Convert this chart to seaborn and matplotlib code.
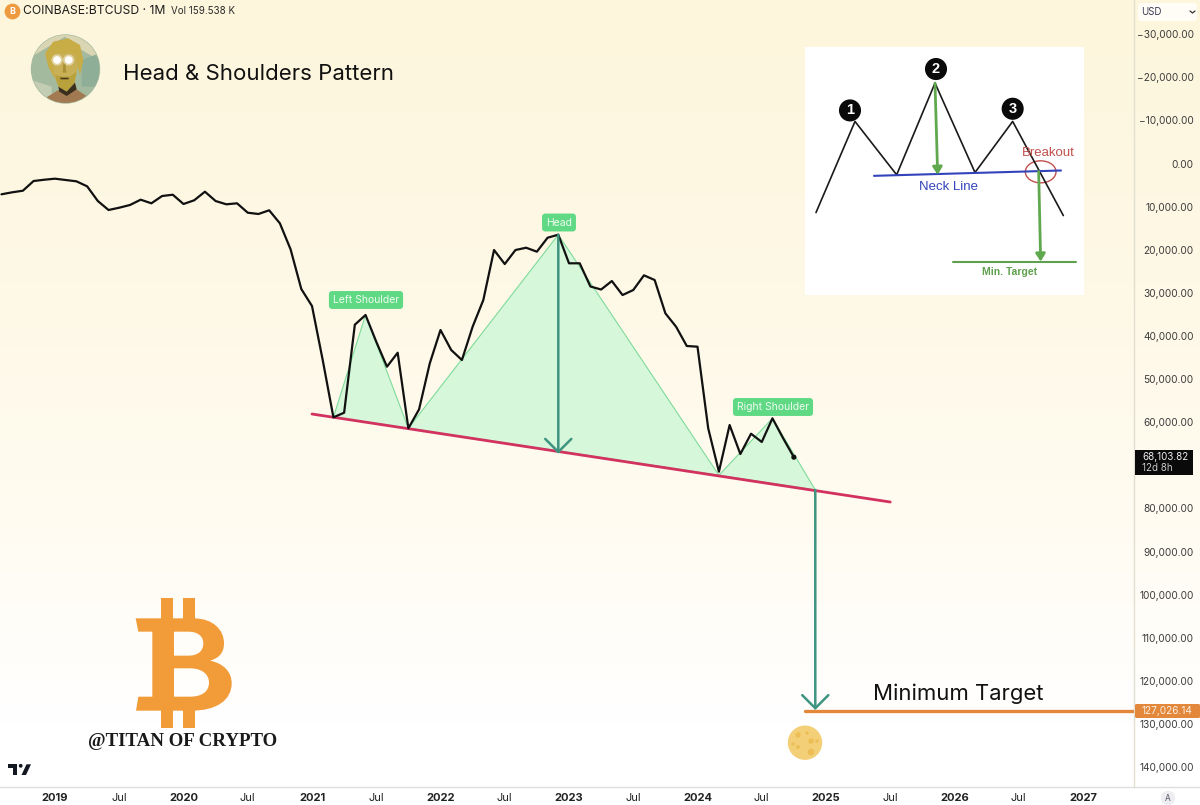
import numpy as np
import pandas as pd
import matplotlib.pyplot as plt
import seaborn as sns
from matplotlib.colors import LinearSegmentedColormap
from matplotlib.patches import Circle, Ellipse, FancyBboxPatch, PathPatch, Polygon, Rectangle
from matplotlib.path import Path

# monthly closes, first value is Aug 2018 (month index -5, Jan 2019 = 0), price axis is inverted
prices = [7140, 6680, 6310, 4060, 3760, 3520, 3830, 4130, 5290, 8700,
          10780, 10250, 9620, 8390, 9230, 7540, 7240, 9390, 8530, 6540,
          8700, 9460, 9230, 11410, 11710, 10850, 13870, 19900, 29100, 33050,
          45570, 58860, 57790, 37380, 35130, 41320, 47120, 43880, 61410, 57000,
          46330, 38610, 43250, 45570, 37850, 31650, 20060, 23310, 20060, 19530,
          20450, 17210, 16510, 23140, 23140, 28520, 29220, 27250, 30500, 29340,
          25930, 27020, 34740, 37850, 42320, 42480, 61410, 71470, 60640, 67370,
          62660, 64580, 59090, 63730, 68103.82]
first_month = -5

# head and shoulders pivots
pattern_months = [26, 29, 33, 47, 62, 67, 71]
pattern_prices = [58860, 35130, 61410, 16510, 72300, 59090, 75700]
neck_months = [24, 78]
neck_prices = [58090, 78500]
head_arrow_end = 67300
target_price = 127026.14
target_start_month = 70

# 70,000 sits behind the last price box in the reference, so it has no label
y_ticks = [-30000, -20000, -10000, 0, 10000, 20000, 30000, 40000, 50000, 60000,
           80000, 90000, 100000, 110000, 120000, 130000, 140000]
x_ticks = [0, 6, 12, 18, 24, 30, 36, 42, 48, 54, 60, 66, 72, 78, 84, 90, 96]
x_labels = ["2019", "Jul", "2020", "Jul", "2021", "Jul", "2022", "Jul", "2023", "Jul",
            "2024", "Jul", "2025", "Jul", "2026", "Jul", "2027"]

# little schematic in the white box
sketch_x = [48, 165, 290, 405, 525, 638, 790]
sketch_y = [518, 245, 405, 130, 398, 245, 527]
sketch_nums = ["1", "2", "3"]
sketch_num_x = [150, 408, 638]
sketch_num_y = [212, 88, 207]

sns.set_theme(style="white")
plt.rcParams["font.family"] = ["Inter", "DejaVu Sans"]

W, H = 1200, 805
fig = plt.figure(figsize=(12, 8.05), dpi=100)

# background gradient
bg = fig.add_axes([0, 0, 1, 1], zorder=0)
cmap = LinearSegmentedColormap.from_list("bg", [(0, "#FDF6DC"), (0.35, "#FEF8E6"), (0.6, "#FFFBEF"), (0.9, "#FFFFFF"), (1, "#FFFFFF")])
bg.imshow(np.linspace(0, 1, 256).reshape(-1, 1), aspect="auto", cmap=cmap, extent=(0, 1, 0, 1), origin="upper")
bg.axis("off")

# main chart, axes span 0..1134 x 0..786.5 px
ax_w, ax_h = 1134, 786.5
ax = fig.add_axes([0, 1 - ax_h / H, ax_w / W, ax_h / H], zorder=1)
ax.patch.set_alpha(0)

px_month = 1028 / 96
ax.set_xlim(-55 / px_month, (ax_w - 55) / px_month)
ax.set_ylim(144470, -37917)

df = pd.DataFrame({"month": np.arange(len(prices)) + first_month, "price": prices})

green = "#D6F7D9"
edge = "#7FDB9B"
for a, b, c in [(0, 1, 2), (2, 3, 4), (4, 5, 6)]:
    tri = [(pattern_months[i], pattern_prices[i]) for i in (a, b, c)]
    ax.add_patch(Polygon(tri, closed=True, facecolor=green, edgecolor=edge, lw=0.8, zorder=1))

sns.lineplot(data=df, x="month", y="price", color="#111111", lw=1.6, errorbar=None, ax=ax, zorder=4)
sns.scatterplot(data=df.tail(1), x="month", y="price", color="#111111", s=14, edgecolor="none", ax=ax, zorder=5)

sns.lineplot(x=neck_months, y=neck_prices, color="#D2325F", lw=2.0, errorbar=None, ax=ax, zorder=3)

teal = "#3F9381"
arrow = dict(arrowstyle="->,head_length=0.94,head_width=0.94", mutation_scale=10, color=teal, lw=1.8, shrinkA=0, shrinkB=0)
ax.annotate("", xy=(pattern_months[3], head_arrow_end), xytext=(pattern_months[3], pattern_prices[3]), arrowprops=arrow, zorder=5)
ax.annotate("", xy=(pattern_months[6], target_price - 300), xytext=(pattern_months[6], pattern_prices[6]), arrowprops=arrow, zorder=5)

ax.plot([target_start_month, 200], [target_price, target_price], color="#E3873A", lw=2.4, solid_capstyle="round", zorder=4)

ax.set_xlabel("")
ax.set_ylabel("")
ax.yaxis.tick_right()
ax.set_yticks(y_ticks)
ax.set_yticklabels([f"{v:,.2f}".replace("-", "\u2212") for v in y_ticks], ha="right", fontsize=7.3, color="#3C3C3C")
ax.tick_params(axis="y", length=0, pad=43)
ax.set_xticks(x_ticks)
ax.set_xticklabels(x_labels, fontsize=8, color="#222222")
ax.tick_params(axis="x", length=0, pad=4.5)
for lab, txt in zip(ax.get_xticklabels(), x_labels):
    if txt != "Jul":
        lab.set_fontweight("bold")
for s in ("top", "left"):
    ax.spines[s].set_visible(False)
ax.spines["bottom"].set_color("#DEDEDC")
ax.spines["right"].set_color("#E3DFD0")
ax.spines["bottom"].set_linewidth(1)
ax.spines["right"].set_linewidth(1)

# pixel overlay for labels and pictures
ov = fig.add_axes([0, 0, 1, 1], zorder=3)
ov.set_xlim(0, W)
ov.set_ylim(H, 0)
ov.axis("off")
ov.patch.set_alpha(0)

# horizontal axis bottom spine carries on under the price scale
ov.plot([1134, 1200], [786.5, 786.5], color="#DEDEDC", lw=1)

# header
ov.add_patch(Circle((12.5, 11.5), 7.2, color="#EE9A3F"))
ov.text(12.5, 11.7, "B", color="white", fontsize=6.5, fontweight="bold", ha="center", va="center")
ov.text(23, 11.5, "COINBASE:BTCUSD \u00b7 1M", fontsize=8.75, color="#1C1C1C", va="center")
ov.text(171, 11.5, "Vol 159.538 K", fontsize=7.0, color="#2A2A2A", va="center")
ov.text(123, 74, "Head & Shoulders Pattern", fontsize=16, color="#111111", va="center")

def av_poly(points, color):
    p = Polygon([(25 + x / 3, 30 + y / 3) for x, y in points], color=color, lw=0)
    ov.add_patch(p)
    p.set_clip_path(clip)

clip = Circle((65.5, 69), 34, transform=ov.transData)
ov.add_patch(Circle((65.5, 69), 34, color="#A4BA9E"))
av_poly([(20, 15), (222, 15), (222, 90), (170, 60), (120, 20), (70, 50), (20, 80)], "#DAD6B4")
av_poly([(170, 90), (222, 70), (222, 170), (170, 170)], "#8FAE97")
av_poly([(20, 150), (80, 170), (80, 225), (20, 225)], "#C3CDB3")
av_poly([(60, 205), (100, 180), (125, 195), (150, 175), (195, 205), (170, 225), (80, 225)], "#A27A52")
av_poly([(60, 70), (85, 35), (130, 25), (165, 45), (175, 90), (165, 135), (155, 100), (150, 75), (100, 70), (90, 110), (88, 145), (70, 110)], "#C8AC45")
av_poly([(88, 70), (150, 70), (158, 115), (148, 160), (125, 185), (100, 170), (85, 130)], "#C9AF55")
av_poly([(90, 135), (112, 140), (135, 140), (155, 125), (148, 160), (125, 185), (100, 170)], "#B9A23C")
av_poly([(100, 170), (125, 185), (150, 158), (155, 178), (125, 198), (103, 185)], "#3A2E1E")
av_poly([(105, 143), (132, 143), (130, 148), (107, 148)], "#4A3A20")
av_poly([(115, 100), (121, 100), (124, 128), (113, 128)], "#A89038")
for ex, ey in [(57, 60), (68.7, 60)]:
    ov.add_patch(Circle((ex, ey), 5.6, color="#FFFFFF", alpha=0.45, lw=0))
    ov.add_patch(Circle((ex, ey), 3.8, color="#FFFFFF", lw=0))

# pattern labels
pill = dict(boxstyle="round,pad=0.38,rounding_size=0.3", fc="#60D985", ec="none")
ov.text(366, 300, "Left Shoulder", fontsize=7.5, color="#EFFBEF", ha="center", va="center", bbox=pill)
ov.text(559, 222.5, "Head", fontsize=7.5, color="#EFFBEF", ha="center", va="center", bbox=pill)
ov.text(773, 407, "Right Shoulder", fontsize=7.5, color="#EFFBEF", ha="center", va="center", bbox=pill)

ov.text(873, 694, "Minimum Target", fontsize=15.9, color="#111111", va="center")

# price scale boxes
ov.add_patch(FancyBboxPatch((1138, 3), 59, 18, boxstyle="round,pad=0,rounding_size=3", fc="#FFFDF5", ec="none"))
ov.text(1141, 12, "USD", fontsize=7, color="#3A3A55", va="center")
ov.plot([1190, 1192.5, 1195], [11, 13, 11], color="#333333", lw=0.9)
ov.add_patch(Rectangle((1135, 450), 57.5, 25, fc="#0A0A0A", ec="none"))
ov.text(1142, 456.5, "68,103.82", fontsize=7.1, color="#EDEDED", va="center")
ov.text(1142, 468, "12d 8h", fontsize=7, color="#C9C9C9", va="center")
ov.add_patch(FancyBboxPatch((1135, 704), 65, 14, boxstyle="round,pad=0,rounding_size=1.5", fc="#E3873A", ec="none"))
ov.text(1142, 711, "127,026.14", fontsize=7.3, color="#FBEFE2", va="center")
ov.add_patch(Circle((1168, 798), 6.5, color="#EDEDF2"))
ov.text(1168, 798, "A", fontsize=6, color="#555566", ha="center", va="center")

# moon
ov.add_patch(Circle((805, 742.7), 16.5, color="#F3CF78"))
moon_x = [798, 807, 811, 798, 811, 817, 793]
moon_y = [735, 733, 741, 747, 752, 741, 744]
moon_r = [2.0, 1.0, 2.0, 1.2, 2.6, 1.0, 1.0]
for mx, my, mr in zip(moon_x, moon_y, moon_r):
    ov.add_patch(Circle((mx, my), mr, color="#EDBE55"))

# bitcoin logo, path in px
def lp(x, y):
    return (x / 3, 590 + y / 3)

orange = "#F19C38"
for x0, x1, y0, y1 in [(482, 518, 25, 90), (548, 585, 25, 90), (482, 518, 358, 415), (548, 585, 358, 415)]:
    ov.add_patch(Rectangle(lp(x0, y0), (x1 - x0) / 3, (y1 - y0) / 3, fc=orange, ec="none"))
verts, codes = [], []
def mv(*p):
    verts.append(lp(*p)); codes.append(Path.MOVETO)
def ln(*p):
    verts.append(lp(*p)); codes.append(Path.LINETO)
def cv(a, b, c):
    for p in (a, b, c):
        verts.append(lp(*p)); codes.append(Path.CURVE4)
def cl():
    verts.append(lp(0, 0)); codes.append(Path.CLOSEPOLY)
mv(407, 85); ln(580, 85); cv((640, 85), (672, 120), (672, 160)); cv((672, 190), (655, 205), (630, 212))
cv((670, 220), (695, 245), (695, 280)); cv((695, 330), (650, 362), (575, 362)); ln(408, 362); ln(415, 320); ln(457, 320)
ln(457, 125); ln(415, 125); cl()
mv(522, 125); ln(522, 197); ln(565, 197); cv((595, 197), (610, 182), (610, 160)); cv((610, 140), (595, 125), (565, 125)); cl()
mv(522, 235); ln(522, 320); ln(570, 320); cv((605, 320), (627, 305), (627, 278)); cv((627, 252), (605, 235), (570, 235)); cl()
ov.add_patch(PathPatch(Path(verts, codes), fc=orange, ec="none"))
ov.text(183, 741, "@TITAN OF CRYPTO", fontsize=13.6, family="Liberation Serif", fontweight="bold", color="#1A1A1A", ha="center", va="center")

# tradingview mark
ov.add_patch(Polygon([(8.3, 764), (17, 764), (17, 775), (12.5, 775), (12.5, 768), (8.3, 768)], color="#131722", lw=0))
ov.add_patch(Circle((20.7, 765.8), 1.9, color="#131722", lw=0))
ov.add_patch(Polygon([(21.5, 775), (26.5, 764.3), (31, 764.3), (26, 775)], color="#131722", lw=0))

# schematic inset, coordinates in its own 3x grid
ins = fig.add_axes([805 / W, 1 - 295 / H, 279 / W, 248 / H], zorder=2)
ins.set_xlim(15, 852)
ins.set_ylim(765, 22)
ins.set_facecolor("white")
ins.set_xticks([])
ins.set_yticks([])
for s in ins.spines.values():
    s.set_visible(False)
ins.plot(sketch_x, sketch_y, color="#1A1A1A", lw=1.2)
ins.plot([222, 783], [408, 392], color="#3344BB", lw=1.5)
ins.plot([460, 827], [667, 667], color="#5FA04E", lw=1.5)
g_arrow = dict(arrowstyle="-|>,head_length=0.45,head_width=0.28", mutation_scale=10, color="#5FA84E", lw=2, shrinkA=0, shrinkB=0)
ins.annotate("", xy=(413, 405), xytext=(405, 130), arrowprops=g_arrow)
ins.annotate("", xy=(722, 665), xytext=(716, 395), arrowprops=g_arrow)
ins.add_patch(Ellipse((722, 396), 92, 66, fc="none", ec="#C0504D", lw=1))
for n, nx, ny in zip(sketch_nums, sketch_num_x, sketch_num_y):
    ins.add_patch(Circle((nx, ny), 31, color="#0A0A0A"))
    ins.text(nx, ny, n, color="white", fontsize=10.5, fontweight="bold", ha="center", va="center", family="Liberation Sans")
ins.text(447, 442, "Neck Line", color="#3344BB", fontsize=9.5, ha="center", va="center", family="Liberation Sans")
ins.text(745, 340, "Breakout", color="#C0504D", fontsize=9.5, ha="center", va="center", family="Liberation Sans")
ins.text(629, 695, "Min. Target", color="#5FA04E", fontsize=7.5, fontweight="bold", ha="center", va="center", family="Liberation Sans")

plt.savefig("out.png", dpi=100)
